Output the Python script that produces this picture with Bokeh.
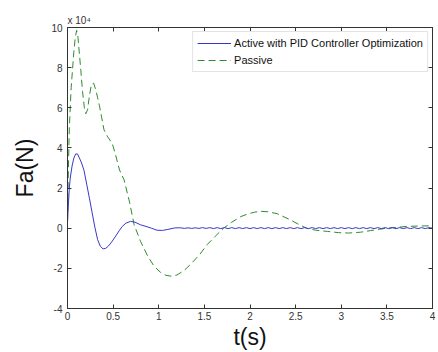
import math
from bokeh.plotting import figure
from bokeh.models import Range1d, LinearAxis, FixedTicker
from bokeh.embed import file_html
from bokeh.resources import INLINE

# ---- data (force in units of 1e4 N) ----
t_active = [0, 0.01, 0.02, 0.03, 0.05, 0.07, 0.09, 0.11, 0.13, 0.15, 0.18, 0.21,
            0.24, 0.27, 0.30, 0.33, 0.36, 0.39, 0.42, 0.45, 0.49, 0.53, 0.57, 0.60,
            0.64, 0.69, 0.74, 0.80, 0.86, 0.92, 0.98, 1.04, 1.10, 1.17, 1.20,
            1.24, 1.28, 1.32, 1.36, 1.40, 1.44, 1.48, 1.52, 1.56, 1.60, 1.64, 1.68,
            1.72, 1.76, 1.80, 1.84, 1.88, 1.92, 1.96, 2.00, 2.04, 2.08, 2.12, 2.16,
            2.20, 2.24, 2.28, 2.32, 2.36, 2.40, 2.44, 2.48, 2.52, 2.56, 2.60, 2.64,
            2.68, 2.72, 2.76, 2.80, 2.84, 2.88, 2.92, 2.96, 3.00, 3.04, 3.08, 3.12,
            3.16, 3.20, 3.24, 3.28, 3.32, 3.36, 3.40, 3.44, 3.48, 3.52, 3.56, 3.60,
            3.64, 3.68, 3.72, 3.76, 3.80, 3.84, 3.88, 3.92, 3.96, 4.00]
f_active = [0.3, 1.2, 2.0, 2.5, 3.1, 3.5, 3.7, 3.7, 3.5, 3.3, 2.9, 2.2,
            1.5, 0.77, 0.05, -0.57, -0.9, -1.03, -1.0, -0.88, -0.65, -0.38, -0.1, 0.09,
            0.25, 0.34, 0.3, 0.17, 0.09, 0.0, -0.1, -0.11, -0.06, 0.01, 0.02,
            0.02, -0.01, 0.02, -0.01, 0.02, -0.01, 0.03, -0.01, 0.03, -0.02, 0.03, -0.02,
            0.03, -0.02, 0.03, -0.02, 0.03, -0.02, 0.03, -0.02, 0.03, -0.02, 0.03, -0.02,
            0.03, -0.02, 0.03, -0.02, 0.03, -0.02, 0.03, -0.02, 0.03, -0.02, 0.03, -0.02,
            0.03, -0.02, 0.03, -0.02, 0.03, -0.02, 0.03, -0.02, 0.03, -0.02, 0.03, -0.02,
            0.03, -0.02, 0.03, -0.02, 0.03, -0.02, 0.03, -0.02, 0.03, -0.02, 0.03, -0.02,
            0.03, -0.02, 0.03, -0.02, 0.03, -0.02, 0.03, -0.02, 0.03, 0.0]

t_passive = [0, 0.01, 0.02, 0.04, 0.055, 0.07, 0.085, 0.10, 0.115, 0.13, 0.146, 0.165,
             0.185, 0.20, 0.22, 0.24, 0.26, 0.285, 0.31, 0.33, 0.35, 0.375, 0.40, 0.44,
             0.49, 0.53, 0.57, 0.62, 0.68, 0.73, 0.80, 0.88, 0.95, 1.02, 1.08, 1.14,
             1.20, 1.28, 1.36, 1.45, 1.53, 1.62, 1.71, 1.80, 1.90, 1.97, 2.05, 2.12,
             2.20, 2.30, 2.44, 2.53, 2.62, 2.72, 2.85, 2.97, 3.08, 3.21, 3.32, 3.42,
             3.50, 3.60, 3.72, 3.85, 4.00]
f_passive = [0.3, 3.0, 5.0, 7.0, 7.9, 8.8, 9.5, 9.86, 9.5, 8.7, 7.87, 6.8,
             6.0, 5.7, 5.9, 6.6, 7.1, 7.24, 6.9, 6.5, 6.1, 5.5, 4.9, 4.55,
             4.23, 3.6, 2.9, 2.41, 1.3, 0.17, -0.65, -1.4, -1.9, -2.2, -2.35, -2.39,
             -2.33, -2.1, -1.75, -1.3, -0.82, -0.4, 0.0, 0.3, 0.58, 0.7, 0.8, 0.84,
             0.82, 0.72, 0.42, 0.2, 0.0, -0.1, -0.16, -0.22, -0.24, -0.2, -0.12, -0.05,
             0.0, 0.04, 0.09, 0.11, 0.12]

x_ticks = [0, 0.5, 1, 1.5, 2, 2.5, 3, 3.5, 4]
x_tick_labels = ["0", "0.5", "1", "1.5", "2", "2.5", "3", "3.5", "4"]
y_ticks = [-4, -2, 0, 2, 4, 6, 8, 10]
y_tick_labels = ["-4", "-2", "0", "2", "4", "6", "8", "10"]

FONT = "Liberation Sans"
AX = "#333333"

p = figure(width=438, height=352, x_range=Range1d(0, 4), y_range=Range1d(-4, 10),
           output_backend="svg", toolbar_location=None,
           min_border_left=67, min_border_right=6, min_border_top=27, min_border_bottom=43)
p.grid.visible = False
p.outline_line_color = AX
p.background_fill_color = "white"
p.border_fill_color = "white"

p.line(t_passive, f_passive, line_color="#2e8b2e", line_width=1, line_dash="7 4",
       legend_label="Passive")
p.line(t_active, f_active, line_color="#3838c8", line_width=1,
       legend_label="Active with PID Controller Optimization")

def style(ax, ticks, labels, show):
    ax.ticker = FixedTicker(ticks=ticks)
    ax.minor_tick_line_color = None
    ax.major_tick_in = 4
    ax.major_tick_out = 0
    ax.axis_line_color = AX
    ax.major_tick_line_color = AX
    if show:
        ax.major_label_overrides = {t: l for t, l in zip(ticks, labels)}
        ax.major_label_text_font = FONT
        ax.major_label_text_font_size = "10px"
        ax.major_label_text_color = AX
        ax.major_label_standoff = 3
    else:
        ax.major_label_overrides = {t: "" for t in ticks}
        ax.major_label_text_font_size = "0px"
        ax.major_label_standoff = 0

bottom = p.below[0]
left = p.left[0]
style(bottom, x_ticks, x_tick_labels, True)
style(left, y_ticks, y_tick_labels, True)
left.major_label_standoff = 5
top = LinearAxis()
right = LinearAxis()
p.add_layout(top, "above")
p.add_layout(right, "right")
style(top, x_ticks, x_tick_labels, False)
style(right, y_ticks, y_tick_labels, False)

bottom.axis_label = "t(s)"
left.axis_label = "Fa(N)"
for ax in (bottom, left):
    ax.axis_label_text_font = FONT
    ax.axis_label_text_font_size = "23px"
    ax.axis_label_text_font_style = "normal"
    ax.axis_label_text_color = "#111111"
bottom.axis_label_standoff = 1
left.axis_label_standoff = 10

p.title.text = "x 10\u2074"
p.title.text_font = FONT
p.title.text_font_size = "10px"
p.title.text_font_style = "normal"
p.title.text_color = AX
p.title.align = "left"
p.title.standoff = 4

lg = p.legend[0]
lg.location = "top_right"
lg.margin = 4
lg.padding = 4
lg.spacing = 3
lg.glyph_width = 34
lg.glyph_height = 14
lg.label_height = 14
lg.label_standoff = 3
lg.label_text_font = FONT
lg.label_text_font_size = "11px"
lg.label_text_color = "#111111"
lg.border_line_color = "#c8c8c8"
lg.background_fill_color = "white"
lg.background_fill_alpha = 1.0
lg.items = [lg.items[1], lg.items[0]]

open("out.html", "w").write(file_html(p, INLINE))
